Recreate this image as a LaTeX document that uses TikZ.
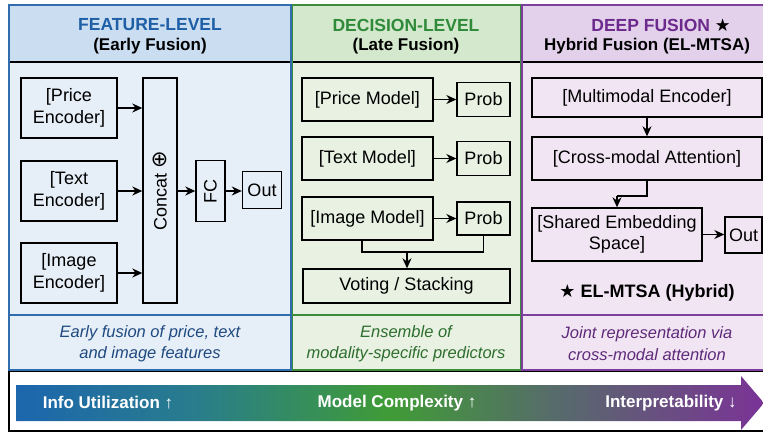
\documentclass[tikz,border=0pt]{standalone}
\usepackage{fontspec}
\setmainfont{Liberation Sans}
\newfontfamily\symfont{DejaVu Sans}
\usetikzlibrary{arrows.meta}

\definecolor{headA}{HTML}{CADDF1}
\definecolor{bodyA}{HTML}{E6EEF7}
\definecolor{lineA}{HTML}{2F6DAE}
\definecolor{titleA}{HTML}{1E5FA6}
\definecolor{noteA}{HTML}{1F4A80}
\definecolor{headB}{HTML}{D3E8CC}
\definecolor{bodyB}{HTML}{E8F1E2}
\definecolor{lineB}{HTML}{3C8C3C}
\definecolor{titleB}{HTML}{2F8A3A}
\definecolor{noteB}{HTML}{2E6E2E}
\definecolor{headC}{HTML}{E3D1EB}
\definecolor{bodyC}{HTML}{F1E5F3}
\definecolor{lineC}{HTML}{7D3F9D}
\definecolor{titleC}{HTML}{6C2A8C}
\definecolor{noteC}{HTML}{5E2A7A}

% blue -> green -> purple along the trade-off bar
% (TikZ maps the path's box onto the 25bp..75bp band of a shading)
\pgfdeclarehorizontalshading{tradeoff}{100bp}{%
  rgb(0bp)=(0.11,0.40,0.68);
  rgb(25bp)=(0.11,0.40,0.68);
  rgb(37bp)=(0.16,0.49,0.55);
  rgb(50bp)=(0.25,0.61,0.21);
  rgb(61bp)=(0.34,0.42,0.42);
  rgb(75bp)=(0.48,0.20,0.59);
  rgb(100bp)=(0.48,0.20,0.59)}

\tikzset{
  blk/.style={draw=black, line width=1.4pt, inner sep=1pt, align=center,
    font=\fontsize{18}{21.5}\selectfont},
  arr/.style={-{Stealth[length=10pt,width=9pt]}, line width=1.3pt},
  wire/.style={line width=1.3pt},
  title/.style={font=\fontsize{17.5}{21}\selectfont\bfseries},
  subtitle/.style={font=\fontsize{17}{20}\selectfont\bfseries},
  note/.style={font=\fontsize{16.5}{21.5}\selectfont\itshape, align=center},
  barlabel/.style={font=\fontsize{17}{20}\selectfont\bfseries, text=white}
}

\begin{document}
\begin{tikzpicture}[x=1pt,y=-1pt]
\useasboundingbox (0,0) rectangle (763,432);
\clip (0,0) rectangle (763,432);
\fill[white] (0,0) rectangle (763,432);

% ---- panel backgrounds ----
\fill[bodyA] (9,5) rectangle (291,370);
\fill[headA] (9,5) rectangle (291,62);
\fill[bodyB] (291,5) rectangle (521,370);
\fill[headB] (291,5) rectangle (521,62);
\fill[bodyC] (521,5) rectangle (770,370);
\fill[headC] (521,5) rectangle (770,62);

% ---- panel frames ----
\draw[lineA, line width=1.2pt] (9,315) -- (291,315);
\draw[lineB, line width=1.2pt] (292,315) -- (521,315);
\draw[lineC, line width=1.2pt] (522,315) -- (770,315);
\draw[black, line width=1.4pt] (9,62) -- (770,62);
\draw[lineA, line width=1.2pt] (9,5) rectangle (291,370);
\draw[lineB, line width=1.2pt] (292.5,5) rectangle (521,370);
\draw[lineC, line width=1.2pt] (522,5) rectangle (775,370);

% ---- headers ----
\node[title, text=titleA] (hA) at (150,25) {FEATURE-LEVEL};
\node[subtitle] (sA) at (150,46) {(Early Fusion)};
\node[title, text=titleB] (hB) at (406,25) {DECISION-LEVEL};
\node[subtitle] (sB) at (406,46) {(Late Fusion)};
\node[title, text=titleC] (hC) at (661,25) {DEEP FUSION {\symfont\color{black}★}};
\node[subtitle] (sC) at (647,46) {Hybrid Fusion (EL-MTSA)};

% ---- feature-level (early fusion) ----
\node[blk, minimum width=96pt, minimum height=60pt] (pe) at (69,108) {[Price\\Encoder]};
\node[blk, minimum width=96pt, minimum height=60pt] (te) at (69,191) {[Text\\Encoder]};
\node[blk, minimum width=96pt, minimum height=60pt] (ie) at (69,273) {[Image\\Encoder]};
\node[blk, minimum width=34pt, minimum height=225pt] (cc) at (160,190.5) {};
\node[font=\fontsize{18}{21}\selectfont, rotate=90] (cctxt) at (cc.center) {Concat {\symfont\fontsize{21}{21}\selectfont ⊕}};
\node[blk, minimum width=29pt, minimum height=61pt] (fc) at (210.5,191) {};
\node[font=\fontsize{18}{21}\selectfont, rotate=90] (fctxt) at (fc.center) {FC};
\node[blk, minimum width=39pt, minimum height=37pt] (oA) at (262,190) {Out};
\draw[arr] (pe.east) -- (pe.east -| cc.west);
\draw[arr] (te.east) -- (te.east -| cc.west);
\draw[arr] (ie.east) -- (ie.east -| cc.west);
\draw[arr] (cc.east |- fc.west) -- (fc.west);
\draw[arr] (fc.east) -- (fc.east -| oA.west);

% ---- decision-level (late fusion) ----
\node[blk, minimum width=131pt, minimum height=43pt] (pm) at (367.5,99.5) {[Price Model]};
\node[blk, minimum width=53pt, minimum height=34pt] (p1) at (483.5,99.5) {Prob};
\node[blk, minimum width=131pt, minimum height=43pt] (tm) at (367.5,158.5) {[Text Model]};
\node[blk, minimum width=53pt, minimum height=34pt] (p2) at (483.5,158.5) {Prob};
\node[blk, minimum width=131pt, minimum height=43pt] (im) at (367.5,218.5) {[Image Model]};
\node[blk, minimum width=53pt, minimum height=33pt] (p3) at (483.5,218.5) {Prob};
\node[blk, minimum width=207pt, minimum height=34pt] (vs) at (406.5,286) {Voting / Stacking};
\draw[arr] (pm.east) -- (p1.west);
\draw[arr] (tm.east) -- (tm.east -| p2.west);
\draw[arr] (im.east) -- (im.east -| p3.west);
\coordinate (jl) at (362,252);
\coordinate (jm) at (407,252);
\coordinate (jr) at (483.5,252);
\draw[wire] (im.south -| jl) -- (jl) -- (jr) -- (p3.south);
\draw[arr] (jm) -- (jm |- vs.north);

% ---- deep fusion (hybrid) ----
\node[blk, minimum width=230pt, minimum height=39pt] (me) at (647,97.5) {[Multimodal Encoder]};
\node[blk, minimum width=230pt, minimum height=43pt] (ca) at (647,158.5) {[Cross-modal Attention]};
\node[blk, minimum width=170pt, minimum height=53pt] (se) at (617,234.5) {[Shared Embedding\\Space]};
\node[blk, minimum width=37pt, minimum height=36pt] (oC) at (743.5,235) {Out};
\draw[arr] (me.south) -- (ca.north);
\coordinate (k1) at (647,196);
\coordinate (k2) at (617,196);
\draw[wire] (ca.south) -- (k1) -- (k2);
\draw[arr] (k2) -- (se.north);
\draw[arr] (se.east) -- (se.east -| oC.west);
\node[font=\fontsize{18}{21}\selectfont\bfseries] (em) at (647,293) {{\symfont ★} EL-MTSA (Hybrid)};

% ---- footnotes ----
\node[note, text=noteA] (nA) at (150,343.5) {Early fusion of price, text\\and image features};
\node[note, text=noteB] (nB) at (406,343.5) {Ensemble of\\modality-specific predictors};
\node[note, text=noteC] (nC) at (647,343.5) {Joint representation via\\cross-modal attention};

% ---- trade-off bar ----
\draw[black, line width=1.5pt, fill=white] (9,371.5) rectangle (775,431);
\shade[shading=tradeoff]
  (16,385) -- (741,385) -- (741,376) -- (764,403) -- (741,430) -- (741,421) -- (16,421) -- cycle;
\node[barlabel] (b1) at (108,403) {Info Utilization ↑};
\node[barlabel] (b2) at (397,403) {Model Complexity ↑};
\node[barlabel] (b3) at (671,403) {Interpretability ↓};
\end{tikzpicture}
\end{document}
